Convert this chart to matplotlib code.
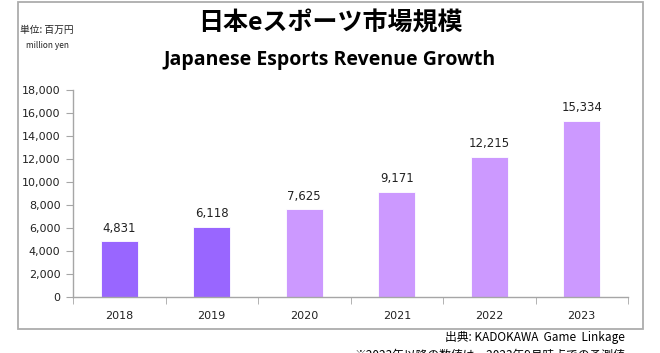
import matplotlib
matplotlib.use("Agg")
import matplotlib.pyplot as plt
from matplotlib.patches import Rectangle
from matplotlib.ticker import FuncFormatter, MultipleLocator

years = ["2018", "2019", "2020", "2021", "2022", "2023"]
revenue = [4831, 6118, 7625, 9171, 12215, 15334]
bar_colors = ["#9966FF", "#9966FF", "#CC99FF", "#CC99FF", "#CC99FF", "#CC99FF"]

plt.rcParams['font.family'] = ['Noto Sans CJK JP', 'DejaVu Sans']

fig = plt.figure(figsize=(6.6, 3.53), dpi=100)

# outer border
fig.patches.append(Rectangle((18/660, 1-329/353), 625/660, 327/353,
                             transform=fig.transFigure, fill=False,
                             edgecolor="#ADADAD", linewidth=1.3, zorder=0))

ax = fig.add_axes([73/660, 1-297/353, 555/660, 207/353])
x = list(range(len(years)))
bars = ax.bar(x, revenue, width=0.4, color=bar_colors, edgecolor="white", linewidth=0.6, zorder=2)
ax.set_xlim(-0.5, len(years)-0.5)
ax.set_ylim(0, 18000)
ax.yaxis.set_major_locator(MultipleLocator(2000))
ax.yaxis.set_major_formatter(FuncFormatter(lambda v, p: f"{int(v):,}"))
ax.set_xticks(x)
ax.set_xticklabels(years)
ax.set_xticks([i + 0.5 for i in range(-1, len(years))], minor=True)
ax.tick_params(axis='x', which='major', length=0, pad=10, labelsize=8, labelcolor="#222222")
ax.tick_params(axis='x', which='minor', length=5, color="#A6A6A6", direction='out')
ax.tick_params(axis='y', length=5, color="#A6A6A6", labelsize=8, labelcolor="#222222", pad=4)
for lbl in ax.get_xticklabels() + ax.get_yticklabels():
    lbl.set_family('DejaVu Sans')
for s in ["top", "right"]:
    ax.spines[s].set_visible(False)
for s in ["left", "bottom"]:
    ax.spines[s].set_color("#A6A6A6")
    ax.spines[s].set_linewidth(1.0)

for xi, v in zip(x, revenue):
    ax.annotate(f"{v:,}", (xi, v), xytext=(0, 4.5), textcoords="offset points",
                ha="center", va="bottom", fontsize=8.5, color="#222222", family='DejaVu Sans')

fig.text(330/660, 1-23/353, "日本eスポーツ市場規模", ha="center", va="center",
         fontsize=18, fontweight="bold", color="black")
fig.text(329/660, 1-60/353, "Japanese Esports Revenue Growth", ha="center", va="center",
         fontsize=14, fontweight="bold", family=['Open Sans', 'DejaVu Sans'], color="black")
fig.text(47/660, 1-30/353, "単位: 百万円", ha="center", va="center", fontsize=7, color="#222222")
fig.text(47/660, 1-46/353, "million yen", ha="center", va="center", fontsize=6, color="#222222")

fig.text(625/660, 1-338/353, "出典: KADOKAWA  Game  Linkage", ha="right", va="center",
         fontsize=8.5, color="black")
fig.text(625/660, 1-355/353, "※2023年以降の数値は、2023年9月時点での予測値", ha="right", va="center",
         fontsize=8.5, color="black")

fig.savefig("out.png", dpi=100)
